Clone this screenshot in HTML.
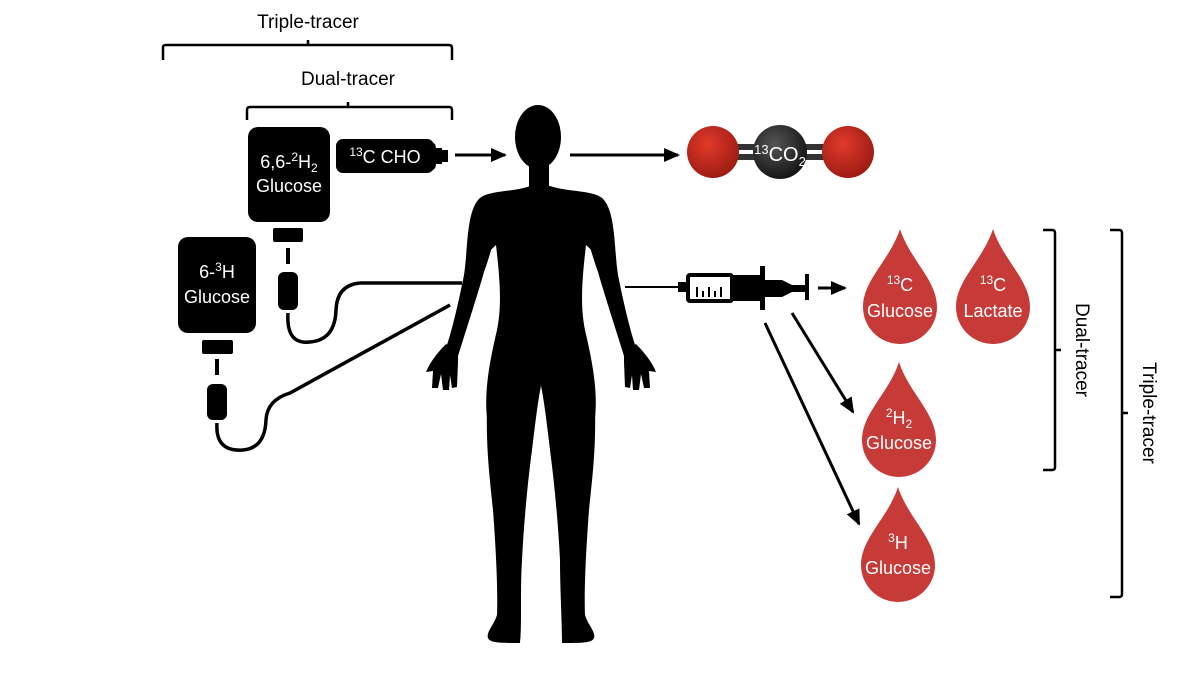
<!DOCTYPE html>
<html><head><meta charset="utf-8"><style>
html,body{margin:0;padding:0;background:#fff}
svg{display:block}
text{font-family:"Liberation Sans",Arial,sans-serif}
</style></head><body>
<svg width="1200" height="675" viewBox="0 0 1200 675" xmlns="http://www.w3.org/2000/svg">
<defs>
<marker id="ah" markerWidth="16" markerHeight="14" refX="14" refY="7" orient="auto" markerUnits="userSpaceOnUse">
<path d="M0,0 L16,7 L0,14 Z" fill="#000"/></marker>
<radialGradient id="rg" cx="0.4" cy="0.35" r="0.7"><stop offset="0" stop-color="#e03a2a"/><stop offset="1" stop-color="#9a1a12"/></radialGradient>
<radialGradient id="kg" cx="0.4" cy="0.35" r="0.7"><stop offset="0" stop-color="#555"/><stop offset="1" stop-color="#111"/></radialGradient>
</defs>
<text x="308" y="28" font-size="19" text-anchor="middle">Triple-tracer</text>
<path d="M163,60 V47 Q163,45 166,45 H449 Q452,45 452,48 V60 M308,45 V40" stroke="#000" stroke-width="2.5" fill="none"/>
<text x="348" y="85" font-size="19" text-anchor="middle">Dual-tracer</text>
<path d="M247,120 V110 Q247,107 250,107 H449 Q452,107 452,110 V120 M348,107 V102" stroke="#000" stroke-width="2.5" fill="none"/>
<path d="M1043,230 H1052 Q1055,230 1055,233 V467 Q1055,470 1052,470 H1043 M1055,350 H1061" stroke="#000" stroke-width="2.5" fill="none"/>
<text x="0" y="0" font-size="19" text-anchor="middle" transform="translate(1076,350) rotate(90)">Dual-tracer</text>
<path d="M1110,230 H1119 Q1122,230 1122,233 V594 Q1122,597 1119,597 H1110 M1122,413 H1128" stroke="#000" stroke-width="2.5" fill="none"/>
<text x="0" y="0" font-size="19" text-anchor="middle" transform="translate(1143,413) rotate(90)">Triple-tracer</text>
<rect x="248" y="127" width="82" height="95" rx="10" fill="#000"/>
<text x="289" y="168" font-size="18" fill="#fff" text-anchor="middle">6,6-<tspan font-size="12" dy="-7">2</tspan><tspan dy="7">H</tspan><tspan font-size="12" dy="4">2</tspan></text>
<text x="289" y="192" font-size="18" fill="#fff" text-anchor="middle">Glucose</text>
<rect x="273" y="228" width="30" height="14" rx="2" fill="#000"/>
<rect x="286" y="248" width="4" height="16" fill="#000"/>
<rect x="278" y="272" width="20" height="38" rx="6" fill="#000"/>
<path d="M288,313 Q286,345 310,342 Q335,340 336,310 Q337,285 360,283 H462" stroke="#000" stroke-width="3.5" fill="none"/>
<rect x="178" y="237" width="78" height="96" rx="10" fill="#000"/>
<text x="217" y="278" font-size="18" fill="#fff" text-anchor="middle">6-<tspan font-size="12" dy="-7">3</tspan><tspan dy="7">H</tspan></text>
<text x="217" y="303" font-size="18" fill="#fff" text-anchor="middle">Glucose</text>
<rect x="202" y="340" width="31" height="14" rx="2" fill="#000"/>
<rect x="215" y="359" width="4" height="16" fill="#000"/>
<rect x="207" y="384" width="20" height="36" rx="6" fill="#000"/>
<path d="M217,423 Q215,452 243,450 Q265,448 266,420 Q267,400 290,393 L450,305" stroke="#000" stroke-width="3.5" fill="none"/>
<rect x="336" y="139" width="98" height="34" rx="7" fill="#000"/>
<path d="M430,141 Q436,143 436,148 H442 V164 H436 Q436,170 430,171 Z" fill="#000"/>
<rect x="442" y="150" width="6" height="12" fill="#000"/>
<text x="385" y="163" font-size="18" fill="#fff" text-anchor="middle"><tspan font-size="12" dy="-7">13</tspan><tspan dy="7">C CHO</tspan></text>
<line x1="455" y1="155" x2="505" y2="155" stroke="#000" stroke-width="3" marker-end="url(#ah)"/>
<line x1="570" y1="155" x2="678" y2="155" stroke="#000" stroke-width="3" marker-end="url(#ah)"/>
<rect x="730" y="144" width="100" height="6" fill="#333"/>
<rect x="730" y="154" width="100" height="6" fill="#333"/>
<circle cx="713" cy="152" r="26" fill="url(#rg)"/>
<circle cx="848" cy="152" r="26" fill="url(#rg)"/>
<circle cx="780" cy="152" r="27" fill="url(#kg)"/>
<text x="780" y="161" font-size="20" fill="#fff" text-anchor="middle"><tspan font-size="13" dy="-7">13</tspan><tspan dy="7">CO</tspan><tspan font-size="13" dy="5">2</tspan></text>
<g fill="#000">
<ellipse cx="538" cy="137" rx="23" ry="32"/>
<rect x="529" y="160" width="20" height="35"/>
<path d="M530,186 C515,192 490,190 480,198 C470,210 472,240 478,262 L496,245 C500,280 502,305 497,330 C490,360 484,390 487,418 L541,386 L595,418 C598,390 592,360 585,330 C580,305 582,280 586,245 L604,262 C610,240 612,210 602,198 C592,190 567,192 550,186 Z"/>
<path d="M480,198 C466,210 468,250 464,275 C458,305 452,330 446,348 L458,356 C466,330 476,300 484,272 C490,255 496,235 496,225 Z"/>
<path d="M446,344 C438,352 430,362 426,372 L433,371 L432,388 L438,388 L441,374 L443,390 L449,390 L450,375 L452,388 L457,387 L458,362 L458,352 Z"/>
<path d="M602,198 C616,210 614,250 618,275 C624,305 630,330 636,348 L624,356 C616,330 606,300 598,272 C592,255 586,235 586,225 Z"/>
<path d="M636,344 C644,352 652,362 656,372 L649,371 L650,388 L644,388 L641,374 L639,390 L633,390 L632,375 L630,388 L625,387 L624,362 L624,352 Z"/>
<path d="M487,410 C486,450 490,480 493,510 C496,550 498,590 497,615 C494,625 486,632 488,638 C490,643 500,643 520,643 L541,386 Z"/>
<path d="M595,410 C596,450 592,480 589,510 C586,550 584,590 585,615 C588,625 596,632 594,638 C592,643 582,643 562,643 L541,386 Z"/>
</g>
<path fill="#fff" d="M541,386 C538,400 535,425 532,450 C528,480 524,520 522,560 C520,590 522,620 520,646 L562,646 C562,620 560,590 560,560 C558,520 554,480 550,450 C547,425 544,400 541,386 Z"/>
<line x1="625" y1="287" x2="680" y2="287" stroke="#000" stroke-width="2"/>
<rect x="678" y="282" width="10" height="10" fill="#000"/>
<rect x="688" y="275" width="44" height="26" rx="2" fill="#fff" stroke="#000" stroke-width="4"/>
<rect x="732" y="275" width="28" height="26" fill="#000"/>
<rect x="760" y="266" width="5" height="44" fill="#000"/>
<path d="M765,280 H782 L792,285 H805 V292 H792 L782,297 H765 Z" fill="#000"/>
<rect x="805" y="274" width="4" height="26" fill="#000"/>
<g stroke="#000" stroke-width="2"><line x1="697" y1="297" x2="697" y2="287"/><line x1="703" y1="297" x2="703" y2="291"/><line x1="709" y1="297" x2="709" y2="287"/><line x1="715" y1="297" x2="715" y2="291"/><line x1="721" y1="297" x2="721" y2="287"/></g>
<line x1="818" y1="288" x2="845" y2="288" stroke="#000" stroke-width="3" marker-end="url(#ah)"/>
<line x1="792" y1="313" x2="853" y2="412" stroke="#000" stroke-width="3" marker-end="url(#ah)"/>
<line x1="765" y1="323" x2="859" y2="524" stroke="#000" stroke-width="3" marker-end="url(#ah)"/>
<g fill="#c63a37">
<path d="M900,229 C910,260 937,280 937,307 A37,37 0 0 1 863,307 C863,280 890,260 900,229 Z"/>
<path d="M993,229 C1003,260 1030,280 1030,307 A37,37 0 0 1 956,307 C956,280 983,260 993,229 Z"/>
<path d="M899,362 C909,393 936,413 936,440 A37,37 0 0 1 862,440 C862,413 889,393 899,362 Z"/>
<path d="M898,487 C908,518 935,538 935,565 A37,37 0 0 1 861,565 C861,538 888,518 898,487 Z"/>
</g>
<g fill="#fff" font-size="18" text-anchor="middle">
<text x="900" y="291"><tspan font-size="12" dy="-7">13</tspan><tspan dy="7">C</tspan></text>
<text x="900" y="317">Glucose</text>
<text x="993" y="291"><tspan font-size="12" dy="-7">13</tspan><tspan dy="7">C</tspan></text>
<text x="993" y="317">Lactate</text>
<text x="899" y="424"><tspan font-size="12" dy="-7">2</tspan><tspan dy="7">H</tspan><tspan font-size="12" dy="4">2</tspan></text>
<text x="899" y="449">Glucose</text>
<text x="898" y="549"><tspan font-size="12" dy="-7">3</tspan><tspan dy="7">H</tspan></text>
<text x="898" y="574">Glucose</text>
</g>
</svg>
</body></html>
